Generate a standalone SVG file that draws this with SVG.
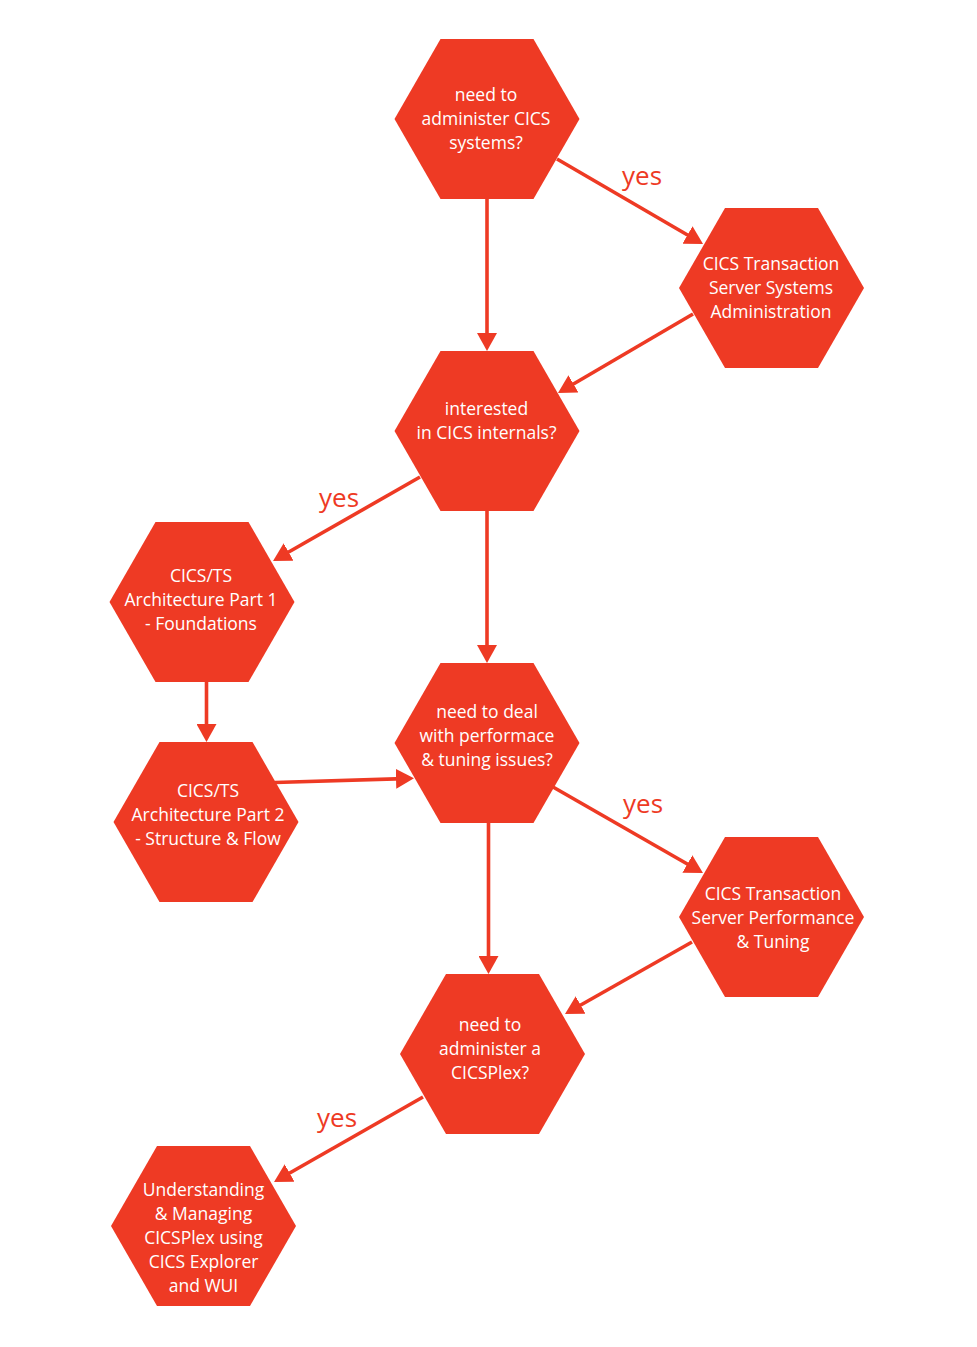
<svg xmlns="http://www.w3.org/2000/svg" xmlns:xlink="http://www.w3.org/1999/xlink" width="977" height="1347" viewBox="0 0 977 1347">
<style>
.hex{fill:#EE3A24}
.t{font-family:"Open Sans","Noto Sans",sans-serif;font-size:17.5px;fill:#FFFFFF;text-anchor:middle}
.yes{font-family:"Open Sans","Noto Sans",sans-serif;font-size:26px;fill:#EE3A24}
.c{stroke:#EE3A24;stroke-width:3.6;fill:none;marker-end:url(#ah)}
</style>
<defs>
<polygon id="hex" points="-92.5,0 -46.5,-80 46.5,-80 92.5,0 46.5,80 -46.5,80"/>
<marker id="ah" markerUnits="userSpaceOnUse" markerWidth="18" markerHeight="20" viewBox="0 0 18 20" refX="8" refY="10" orient="auto">
<path d="M0,0 L18,10 L0,20 z" fill="#EE3A24"/>
</marker>
</defs>
<rect width="977" height="1347" fill="#FFFFFF"/>
<g id="connectors">
<line class="c" x1="487" y1="199" x2="487" y2="341"/>
<line class="c" x1="557" y1="159" x2="694.4" y2="239"/>
<line class="c" x1="693" y1="314" x2="566.6" y2="388"/>
<line class="c" x1="420" y1="477" x2="281.7" y2="556"/>
<line class="c" x1="487" y1="511" x2="487" y2="653"/>
<line class="c" x1="206.5" y1="682" x2="206.5" y2="732"/>
<line class="c" x1="275" y1="782.5" x2="404" y2="778.6"/>
<line class="c" x1="553" y1="787" x2="694.3" y2="868"/>
<line class="c" x1="488.5" y1="823" x2="488.5" y2="964"/>
<line class="c" x1="692" y1="942" x2="573.7" y2="1009"/>
<line class="c" x1="423" y1="1097" x2="282.7" y2="1177"/>
<text class="yes" x="622" y="185">yes</text>
<text class="yes" x="319" y="507">yes</text>
<text class="yes" x="623" y="813">yes</text>
<text class="yes" x="317" y="1127">yes</text>
</g>
<g id="n1">
<use xlink:href="#hex" x="487" y="119" class="hex"/>
<text class="t"><tspan x="486" y="101">need to</tspan><tspan x="486" y="125">administer CICS</tspan><tspan x="486" y="149">systems?</tspan></text>
</g>
<g id="n2">
<use xlink:href="#hex" x="771.5" y="288" class="hex"/>
<text class="t"><tspan x="771" y="270">CICS Transaction</tspan><tspan x="771" y="294">Server Systems</tspan><tspan x="771" y="318">Administration</tspan></text>
</g>
<g id="n3">
<use xlink:href="#hex" x="487" y="431" class="hex"/>
<text class="t"><tspan x="486.5" y="415">interested</tspan><tspan x="486.5" y="439">in CICS internals?</tspan></text>
</g>
<g id="n4">
<use xlink:href="#hex" x="202" y="602" class="hex"/>
<text class="t"><tspan x="201" y="582">CICS/TS</tspan><tspan x="201" y="606">Architecture Part 1</tspan><tspan x="201" y="630">- Foundations</tspan></text>
</g>
<g id="n5">
<use xlink:href="#hex" x="206" y="822" class="hex"/>
<text class="t"><tspan x="208" y="797">CICS/TS</tspan><tspan x="208" y="821">Architecture Part 2</tspan><tspan x="208" y="845">- Structure &amp; Flow</tspan></text>
</g>
<g id="n6">
<use xlink:href="#hex" x="487" y="743" class="hex"/>
<text class="t"><tspan x="487" y="718">need to deal</tspan><tspan x="487" y="742">with performace</tspan><tspan x="487" y="766">&amp; tuning issues?</tspan></text>
</g>
<g id="n7">
<use xlink:href="#hex" x="771.5" y="917" class="hex"/>
<text class="t"><tspan x="773" y="900">CICS Transaction</tspan><tspan x="773" y="924">Server Performance</tspan><tspan x="773" y="948">&amp; Tuning</tspan></text>
</g>
<g id="n8">
<use xlink:href="#hex" x="492.5" y="1054" class="hex"/>
<text class="t"><tspan x="490" y="1031">need to</tspan><tspan x="490" y="1055">administer a</tspan><tspan x="490" y="1079">CICSPlex?</tspan></text>
</g>
<g id="n9">
<use xlink:href="#hex" x="203.5" y="1226" class="hex"/>
<text class="t"><tspan x="203.5" y="1196">Understanding</tspan><tspan x="203.5" y="1220">&amp; Managing</tspan><tspan x="203.5" y="1244">CICSPlex using</tspan><tspan x="203.5" y="1268">CICS Explorer</tspan><tspan x="203.5" y="1292">and WUI</tspan></text>
</g>
</svg>
